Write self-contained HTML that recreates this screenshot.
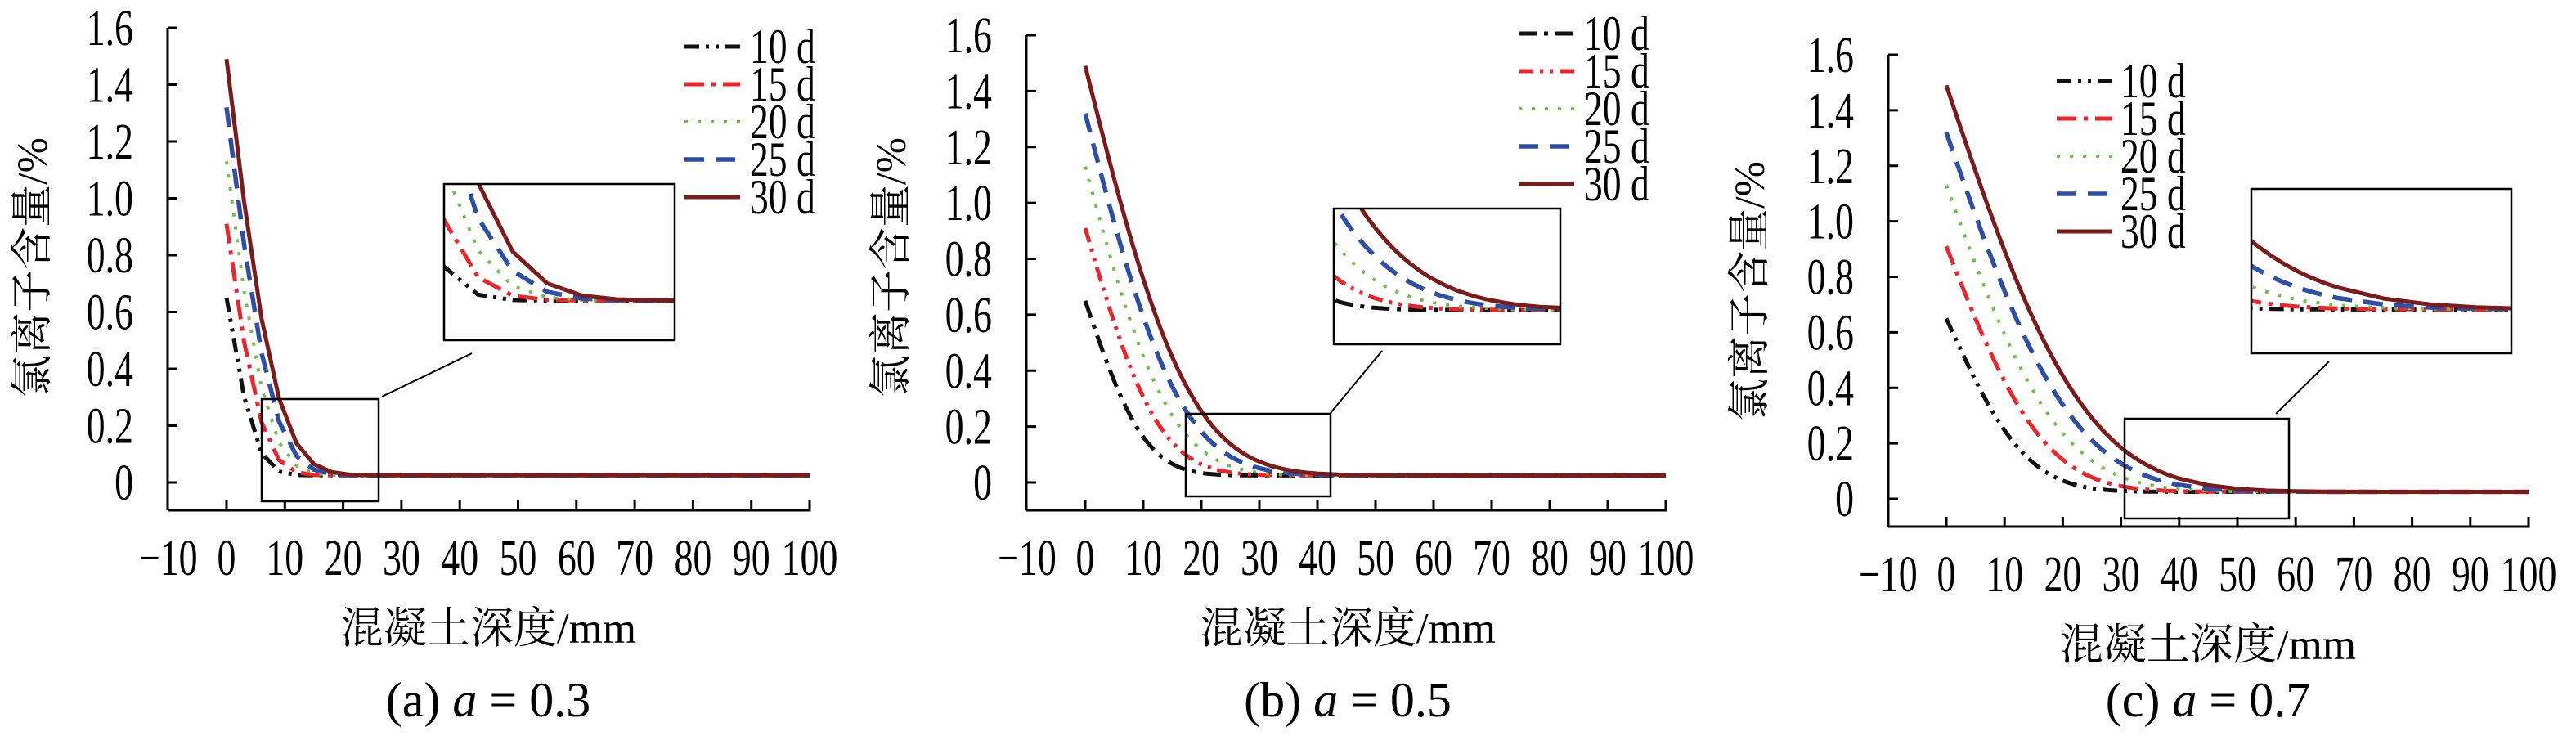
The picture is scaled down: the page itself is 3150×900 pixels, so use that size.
<!DOCTYPE html>
<html><head><meta charset="utf-8"><style>html,body{margin:0;padding:0;background:#fff}svg{display:block}text{font-family:"Liberation Serif","DejaVu Serif",serif}</style></head>
<body>
<svg id="s" xmlns="http://www.w3.org/2000/svg" width="3150" height="900" viewBox="0 0 3150 900"></svg>
<script>
function erfc(x){var t=1/(1+0.3275911*x);var y=t*(0.254829592+t*(-0.284496736+t*(1.421413741+t*(-1.453152027+t*1.061405429))));return y*Math.exp(-x*x);}
var out='';
var F='style="font-family:\'Liberation Serif\',\'DejaVu Serif\',serif"';
var CJ='style="font-family:\'Liberation Serif\',\'Noto Serif CJK SC\',serif"';
function txt(x,y,s,fs,anchor,sx){sx=sx||0.74;return '<text '+F+' font-size="'+fs+'" text-anchor="'+anchor+'" transform="translate('+x+','+y+') scale('+sx+',1)">'+s+'</text>';}
var series=[
 {t:10,c0:0.65,col:'#111',dash:{a:'18,8,4,8,4,8',b:'22,9,5,9',c:'18,8,4,8,4,8'},w:5},
 {t:15,c0:0.91,col:'#e8262d',dash:{a:'24,9,5,9',b:'18,8,4,8,4,8',c:'24,9,5,9'},w:5},
 {t:20,c0:1.13,col:'#6cc04a',dash:{a:'4,12',b:'4,12',c:'4,12'},w:4},
 {t:25,c0:1.32,col:'#2e4fa3',dash:{a:'24,14',b:'24,14',c:'24,14'},w:5.5},
 {t:30,c0:1.49,col:'#7a1c1c',dash:{a:'',b:'',c:''},w:5}
];
var base=0.025;
var P=[
 {k:'a',ox:205,x0:277,x100:990,ytop:34,y0:590,xaxis:624,s30:9.6,step:3,
  leg:{lx:837,tx:917,y:57},ylab:[40,327],cap:'(a) ',capv:'0.3',cx:597,
  inset:{sx:[320,463],sy:[488,613],bx:[543,825],by:[225,416],l:[467,485,577,432]}},
 {k:'b',ox:1255,x0:1327,x100:2037,ytop:43,y0:590,xaxis:624,s30:20,step:1,
  leg:{lx:1857,tx:1937,y:41},ylab:[1090,327],cap:'(b) ',capv:'0.5',cx:1648,
  inset:{sx:[1450,1627],sy:[506,607],bx:[1631,1908],by:[255,421],l:[1627,505,1690,429]}},
 {k:'c',ox:2309,x0:2380,x100:3092,ytop:67,y0:610,xaxis:644,s30:26.5,step:1,
  leg:{lx:2515,tx:2593,y:99},ylab:[2140,356],cap:'(c) ',capv:'0.7',cx:2700,
  inset:{sx:[2598,2799],sy:[512,634],bx:[2753,3071],by:[231,432],l:[2783,506,2848,442]}}
];
P.forEach(function(p,pi){
 var dx=(p.x100-p.x0)/100, dy=(p.y0-p.ytop)/1.6;
 function X(v){return p.x0+v*dx;} function Y(v){return p.y0-v*dy;}
 out+='<line x1="'+p.ox+'" y1="'+p.ytop+'" x2="'+p.ox+'" y2="'+p.xaxis+'" stroke="#000" stroke-width="3"/>';
 out+='<line x1="'+p.ox+'" y1="'+p.xaxis+'" x2="'+(p.x100+1.5)+'" y2="'+p.xaxis+'" stroke="#000" stroke-width="3"/>';
 for(var i=0;i<=8;i++){var yy=Y(i*0.2);out+='<line x1="'+p.ox+'" y1="'+yy+'" x2="'+(p.ox+12)+'" y2="'+yy+'" stroke="#000" stroke-width="3"/>';
  var lab=i==0?'0':(i*0.2).toFixed(1);out+=txt(p.ox-42,yy+21,lab,62,'end');}
 for(var v=-10;v<=100;v+=10){var xx=X(v);if(v>-10)out+='<line x1="'+xx+'" y1="'+p.xaxis+'" x2="'+xx+'" y2="'+(p.xaxis-12)+'" stroke="#000" stroke-width="3"/>';
  out+=txt(xx,p.xaxis+79,v<0?'\u221210':String(v),62,'middle');}
 function curve(tr,clip){var s='';series.forEach(function(se){var sc=p.s30*Math.sqrt(se.t/30);var pts=[];
   var xs=[];for(var x=0;x<40;x+=p.step)xs.push(x);for(x=40;x<=100;x+=5)xs.push(x);
   xs.forEach(function(x){var c=base+(se.c0-base)*erfc(x/sc);pts.push(tr(X(x),Y(c)));});
   s+='<polyline fill="none" points="'+pts.join(' ')+'" stroke="'+se.col+'" stroke-width="'+se.w+'"'+(se.dash[p.k]?' stroke-dasharray="'+se.dash[p.k]+'"':'')+(clip?' clip-path="url(#'+clip+')"':'')+'/>';});return s;}
 out+=curve(function(a,b){return a.toFixed(1)+','+b.toFixed(1);});
 var I=p.inset;
 out+='<rect x="'+I.sx[0]+'" y="'+I.sy[0]+'" width="'+(I.sx[1]-I.sx[0])+'" height="'+(I.sy[1]-I.sy[0])+'" fill="none" stroke="#000" stroke-width="2.5"/>';
 out+='<line x1="'+I.l[0]+'" y1="'+I.l[1]+'" x2="'+I.l[2]+'" y2="'+I.l[3]+'" stroke="#000" stroke-width="2"/>';
 out+='<clipPath id="cp'+pi+'"><rect x="'+I.bx[0]+'" y="'+I.by[0]+'" width="'+(I.bx[1]-I.bx[0])+'" height="'+(I.by[1]-I.by[0])+'"/></clipPath>';
 out+='<rect x="'+I.bx[0]+'" y="'+I.by[0]+'" width="'+(I.bx[1]-I.bx[0])+'" height="'+(I.by[1]-I.by[0])+'" fill="#fff"/>';
 var kx=(I.bx[1]-I.bx[0])/(I.sx[1]-I.sx[0]), ky=(I.by[1]-I.by[0])/(I.sy[1]-I.sy[0]);
 out+=curve(function(a,b){return (I.bx[0]+(a-I.sx[0])*kx).toFixed(1)+','+(I.by[0]+(b-I.sy[0])*ky).toFixed(1);},'cp'+pi);
 out+='<rect x="'+I.bx[0]+'" y="'+I.by[0]+'" width="'+(I.bx[1]-I.bx[0])+'" height="'+(I.by[1]-I.by[0])+'" fill="none" stroke="#000" stroke-width="2.5"/>';
 series.forEach(function(se,j){var yy=p.leg.y+j*46;
  out+='<line x1="'+p.leg.lx+'" y1="'+yy+'" x2="'+(p.leg.lx+68)+'" y2="'+yy+'" stroke="'+se.col+'" stroke-width="'+se.w+'"'+(se.dash[p.k]?' stroke-dasharray="'+se.dash[p.k]+'"':'')+'/>';
  out+=txt(p.leg.tx,yy+20,se.t+' d',60,'start',0.76);});
 out+='<text '+CJ+' font-size="52" text-anchor="middle" transform="translate('+(p.ylab[0]+17)+','+p.ylab[1]+') rotate(-90)">氯离子含量/%</text>';
 out+='<text '+CJ+' font-size="53" text-anchor="middle" x="'+p.cx+'" y="'+(p.xaxis+162)+'">混凝土深度/mm</text>';
 out+='<text '+F+' font-size="60" text-anchor="middle" x="'+p.cx+'" y="876">'+p.cap+'<tspan font-style="italic">a</tspan> = '+p.capv+'</text>';
});
document.getElementById('s').innerHTML=out;
</script>
</body></html>
